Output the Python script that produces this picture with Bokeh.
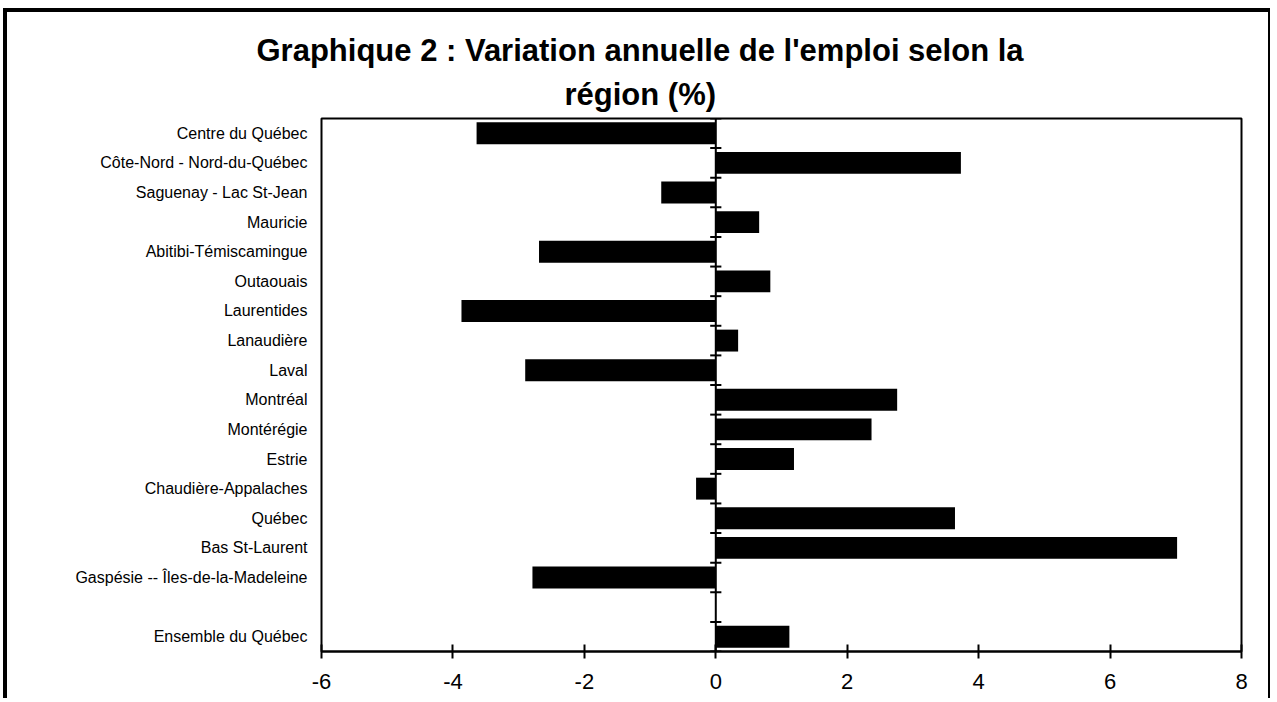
from bokeh.plotting import figure
from bokeh.models import Range1d, Span, Title
from bokeh.embed import file_html
from bokeh.resources import INLINE

# ---- data ----
regions = [
    "Centre du Québec",
    "Côte-Nord - Nord-du-Québec",
    "Saguenay - Lac St-Jean",
    "Mauricie",
    "Abitibi-Témiscamingue",
    "Outaouais",
    "Laurentides",
    "Lanaudière",
    "Laval",
    "Montréal",
    "Montérégie",
    "Estrie",
    "Chaudière-Appalaches",
    "Québec",
    "Bas St-Laurent",
    "Gaspésie -- Îles-de-la-Madeleine",
    "",
    "Ensemble du Québec",
]
variation = [-3.64, 3.73, -0.83, 0.66, -2.69, 0.83, -3.87, 0.34, -2.90,
             2.76, 2.37, 1.19, -0.30, 3.64, 7.02, -2.79, None, 1.12]
x_ticks = [-6, -4, -2, 0, 2, 4, 6, 8]
title_lines = ["Graphique 2 : Variation annuelle de l'emploi selon la", "région (%)"]

FONT = "Liberation Sans"
n = len(regions)
positions = [n - 0.5 - i for i in range(n)]

bar_y = [positions[i] for i in range(n) if variation[i] is not None]
bar_v = [variation[i] for i in range(n) if variation[i] is not None]

p = figure(width=1267, height=690,
           x_range=Range1d(x_ticks[0], x_ticks[-1]), y_range=Range1d(0, n),
           output_backend="svg", toolbar_location=None,
           min_border_left=314, min_border_right=33,
           min_border_top=106, min_border_bottom=51,
           background_fill_color="white", border_fill_color="white",
           styles={"margin-left": "3px",
                   "margin-top": "8px",
                   "border-left": "4px solid black",
                   "border-top": "4px solid black",
                   "border-right": "2px solid black"})

p.outline_line_color = "black"
p.outline_line_width = 2
p.xgrid.visible = False
p.ygrid.visible = False

# bars
p.hbar(y=bar_y, left=0, right=bar_v, height=0.74,
       fill_color="black", line_color=None)

# zero (category) axis with crossing ticks between categories
p.add_layout(Span(location=0, dimension="height", line_color="black", line_width=2))
bounds = list(range(n + 1))
p.segment(x0=[-0.085] * len(bounds), x1=[0.085] * len(bounds), y0=bounds, y1=bounds,
          line_color="black", line_width=2)

# x axis
xa = p.xaxis[0]
xa.ticker = x_ticks
xa.major_label_overrides = {t: str(t) for t in x_ticks}
xa.axis_line_width = 2
xa.major_tick_line_width = 2
xa.major_tick_in = 7
xa.major_tick_out = 7
xa.minor_tick_line_color = None
xa.major_label_text_font = FONT
xa.major_label_text_font_size = "22px"
xa.major_label_text_color = "black"
xa.major_label_standoff = 15

# y axis (category labels)
ya = p.yaxis[0]
ya.ticker = positions
ya.major_label_overrides = {pos: name for pos, name in zip(positions, regions)}
ya.axis_line_color = None
ya.major_tick_line_color = None
ya.minor_tick_line_color = None
ya.major_tick_in = 0
ya.major_tick_out = 0
ya.major_label_standoff = 14
ya.major_label_text_font = FONT
ya.major_label_text_font_size = "16px"
ya.major_label_text_color = "black"

# title (two lines, centred on the whole chart)
p.title.text = title_lines[0]
p.title.align = "left"
p.title.offset = -65
p.title.text_font = FONT
p.title.text_font_size = "31px"
p.title.text_font_style = "bold"
p.title.text_color = "black"
p.title.standoff = 0

t2 = Title(text=title_lines[1], align="left", offset=243,
           text_font=FONT, text_font_size="31px", text_font_style="bold",
           text_color="black", standoff=14)
p.add_layout(t2, "above")

open("out.html", "w").write(file_html(p, INLINE))
